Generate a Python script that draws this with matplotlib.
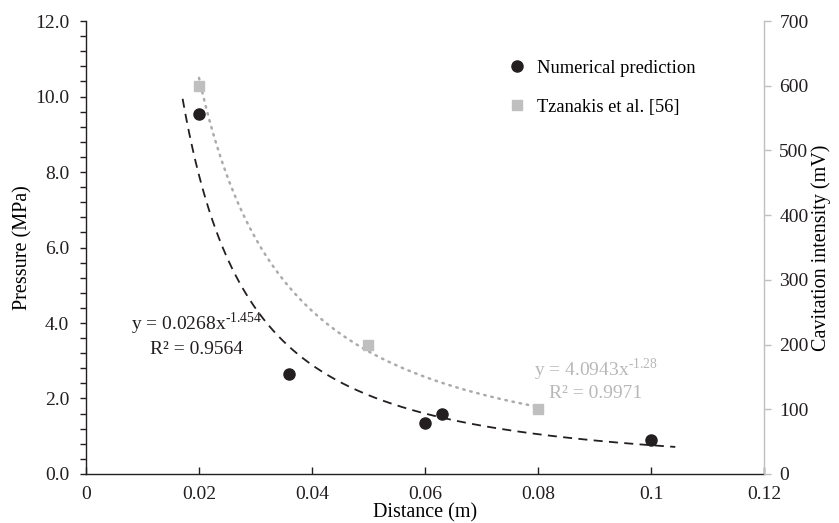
import numpy as np
import matplotlib
matplotlib.use("Agg")
import matplotlib.pyplot as plt
from matplotlib.ticker import MultipleLocator, FormatStrFormatter

plt.rcParams['font.family'] = ['Liberation Serif', 'DejaVu Serif']
plt.rcParams['mathtext.fontset'] = 'custom'
plt.rcParams['mathtext.rm'] = 'Liberation Serif'

# Numerical prediction: pressure vs distance
num_distance = [0.02, 0.036, 0.06, 0.063, 0.1]
num_pressure = [9.53, 2.65, 1.34, 1.58, 0.89]

# Measurements (Tzanakis et al. [56]): cavitation intensity vs distance
exp_distance = [0.02, 0.05, 0.08]
exp_intensity = [600, 200, 100]

# Power-law trendlines y = a * x^b
num_fit = (0.0268, -1.454, 0.9564)
exp_fit = (4.0943, -1.28, 0.9971)
num_fit_range = (0.0171, 0.1043)
exp_fit_range = (0.02, 0.08)

x_ticks = [0, 0.02, 0.04, 0.06, 0.08, 0.1, 0.12]
x_tick_labels = ['0', '0.02', '0.04', '0.06', '0.08', '0.1', '0.12']

BLACK = '#231f20'
GRAY = '#bfbfbf'
GRAY_TEXT = '#b8b8b8'
FS_TICK = 14
FS_LABEL = 14.5
FS_LEG = 13.3
FS_EQ = 14

fig = plt.figure(figsize=(8.39, 5.23), dpi=100)
ax = fig.add_axes([0.1025, 0.0937, 0.8081, 0.8661])
ax2 = ax.twinx()

# Trendlines
xs = np.linspace(*num_fit_range, 300)
ax.plot(xs, num_fit[0] * xs ** num_fit[1], color=BLACK, lw=1.3,
        dashes=(5, 3.5), zorder=2)
xs2 = np.linspace(*exp_fit_range, 300)
ax2.plot(xs2, exp_fit[0] * xs2 ** exp_fit[1], color='#ababab', lw=1.8,
         dashes=(0.6, 2.3), dash_capstyle='round', zorder=2)

# Data points
h1, = ax.plot(num_distance, num_pressure, 'o', color=BLACK, ms=8,
              zorder=3, label='Numerical prediction')
h2, = ax2.plot(exp_distance, exp_intensity, 's', color=GRAY, ms=7.5,
               zorder=3, label='Tzanakis et al. [56]')

# Axes limits and ticks
ax.set_xlim(0, 0.12)
ax.set_ylim(0, 12)
ax2.set_ylim(0, 700)
ax.set_xticks(x_ticks)
ax.set_xticklabels(x_tick_labels)
ax.yaxis.set_major_locator(MultipleLocator(2))
ax.yaxis.set_minor_locator(MultipleLocator(0.4))
ax.yaxis.set_major_formatter(FormatStrFormatter('%.1f'))
ax2.yaxis.set_major_locator(MultipleLocator(100))

for a in (ax, ax2):
    a.spines['top'].set_visible(False)
    a.set_facecolor('none')
ax.spines['right'].set_visible(False)
ax2.spines['left'].set_visible(False)
ax2.spines['bottom'].set_visible(False)
ax.spines['left'].set_color(BLACK)
ax.spines['bottom'].set_color(BLACK)
ax2.spines['right'].set_color(GRAY)
for s in (ax.spines['left'], ax.spines['bottom'], ax2.spines['right']):
    s.set_linewidth(1.0)

ax.tick_params(axis='x', direction='in', length=5, width=1.0, color=BLACK,
               labelsize=FS_TICK, pad=9, labelcolor=BLACK)
ax.tick_params(axis='y', which='major', direction='out', length=4, width=1.0,
               color=BLACK, labelsize=FS_TICK, pad=8, labelcolor=BLACK)
ax.tick_params(axis='y', which='minor', direction='out', length=4, width=1.0,
               color=BLACK)
ax2.tick_params(axis='y', direction='out', length=5, width=1.0, color=GRAY,
                labelsize=FS_TICK, pad=6, labelcolor=BLACK)

ax.set_xlabel('Distance (m)', fontsize=FS_LABEL, labelpad=0)
ax.set_ylabel('Pressure (MPa)', fontsize=FS_LABEL, labelpad=2)
ax2.set_ylabel('Cavitation intensity (mV)', fontsize=FS_LABEL, labelpad=2)

# Trendline equations (hyphen U+2010 keeps the exponent sign short)
ax.text(0.0195, 3.98,
        'y = 0.0268x$^{\\mathregular{\u20101.454}}$', fontsize=FS_EQ,
        color=BLACK, ha='center', va='center')
ax.text(0.0195, 3.3, 'R² = 0.9564', fontsize=FS_EQ, color=BLACK,
        ha='center', va='center')
ax.text(0.0902, 2.76,
        'y = 4.0943x$^{\\mathregular{\u20101.28}}$', fontsize=FS_EQ,
        color=GRAY_TEXT, ha='center', va='center')
ax.text(0.0902, 2.14, 'R² = 0.9971', fontsize=FS_EQ, color=GRAY_TEXT,
        ha='center', va='center')

leg = ax2.legend(handles=[h1, h2], loc='upper left',
                 bbox_to_anchor=(0.622, 0.915), frameon=False,
                 fontsize=FS_LEG, labelspacing=1.2, handlelength=1.0,
                 handletextpad=0.6, borderaxespad=0.0, borderpad=0.0)

fig.savefig('out.png', dpi=100)
